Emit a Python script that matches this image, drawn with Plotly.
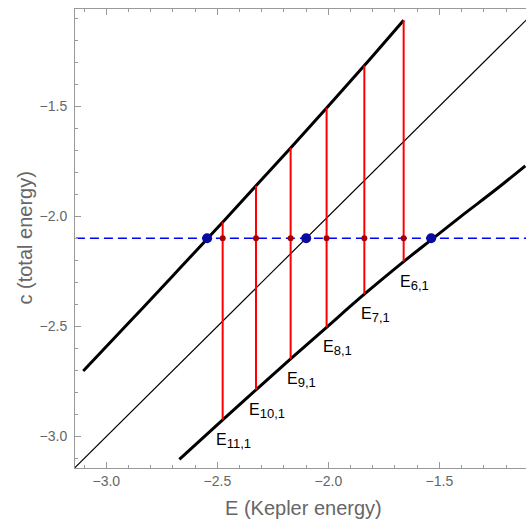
import plotly.graph_objects as go

# Upper boundary curve (E, c)
upper_E = [-3.104, -2.900, -2.700, -2.546, -2.476, -2.326, -2.170, -2.008, -1.838, -1.661]
upper_c = [-2.703, -2.485, -2.270, -2.103, -2.027, -1.862, -1.690, -1.509, -1.316, -1.110]

# Lower boundary curve (E, c)
lower_E = [-2.671, -2.476, -2.326, -2.170, -2.008, -1.838, -1.661, -1.537, -1.400, -1.250, -1.113]
lower_c = [-3.104, -2.924, -2.788, -2.648, -2.504, -2.354, -2.206, -2.107, -1.998, -1.882, -1.771]

# Diagonal c = E
diag_E = [-3.15, -1.05]
diag_c = [-3.15, -1.05]

# Levels E_{n,1}
level_subs = ["11,1", "10,1", "9,1", "8,1", "7,1", "6,1"]
level_E = [-2.476, -2.326, -2.170, -2.008, -1.838, -1.661]
level_top = [-2.027, -1.862, -1.690, -1.509, -1.316, -1.110]
level_bot = [-2.924, -2.788, -2.648, -2.504, -2.354, -2.206]

# Total energy level
c_level = -2.1
blue_E = [-2.546, -2.10, -1.537]

fig = go.Figure()

fig.add_trace(go.Scatter(x=diag_E, y=diag_c, mode="lines",
                         line=dict(color="black", width=1.2), hoverinfo="skip"))
fig.add_trace(go.Scatter(x=upper_E, y=upper_c, mode="lines",
                         line=dict(color="black", width=3, shape="spline"), hoverinfo="skip"))
fig.add_trace(go.Scatter(x=lower_E, y=lower_c, mode="lines",
                         line=dict(color="black", width=3, shape="spline"), hoverinfo="skip"))

for e, t, b in zip(level_E, level_top, level_bot):
    fig.add_trace(go.Scatter(x=[e, e], y=[b, t], mode="lines",
                             line=dict(color="#FF0000", width=2), hoverinfo="skip"))

fig.add_trace(go.Scatter(x=[-3.2, -1.0], y=[c_level, c_level], mode="lines",
                         line=dict(color="#0000FF", width=1.5, dash="9px,5px"), hoverinfo="skip"))

fig.add_trace(go.Scatter(x=level_E, y=[c_level] * len(level_E), mode="markers",
                         marker=dict(color="#A80000", size=6), hoverinfo="skip"))
fig.add_trace(go.Scatter(x=blue_E, y=[c_level] * len(blue_E), mode="markers",
                         marker=dict(color="#0A0AA0", size=10), hoverinfo="skip"))

for sub, e, b in zip(level_subs, level_E, level_bot):
    fig.add_annotation(x=e, y=b,
                       text="E<sub><span style='font-size:13px'>" + sub + "</span></sub>",
                       showarrow=False, xanchor="center", yanchor="top",
                       xshift=11, yshift=-9,
                       font=dict(family="Liberation Sans, Arial, sans-serif", size=16, color="black"))

axis_color = "#999999"
label_color = "#666666"

fig.add_annotation(xref="paper", yref="paper", x=0.507, y=-0.087, text="E (Kepler energy)",
                   showarrow=False, xanchor="center", yanchor="middle",
                   font=dict(family="Liberation Sans, Arial, sans-serif", size=20, color=label_color))
fig.add_annotation(xref="paper", yref="paper", x=-0.113, y=0.5, text="c (total energy)",
                   showarrow=False, xanchor="center", yanchor="middle", textangle=-90,
                   font=dict(family="Liberation Sans, Arial, sans-serif", size=20, color=label_color))

fig.update_layout(
    width=526, height=526,
    margin=dict(l=75, r=0, t=9, b=58),
    paper_bgcolor="white", plot_bgcolor="white",
    showlegend=False,
    font=dict(family="Liberation Sans, Arial, sans-serif", size=14, color=label_color),
)

fig.update_xaxes(range=[-3.141, -1.110], showgrid=False, zeroline=False,
                 showline=True, linecolor=axis_color, linewidth=1, mirror="ticks",
                 ticks="inside", ticklen=6, tickcolor=axis_color, tickwidth=1,
                 tickvals=[-3.0, -2.5, -2.0, -1.5], ticktext=["−3.0", "−2.5", "−2.0", "−1.5"],
                 tickfont=dict(size=14, color=label_color),
                 minor=dict(dtick=0.1, tick0=-3.0, ticks="inside", ticklen=3, tickcolor=axis_color, tickwidth=1))
fig.update_yaxes(range=[-3.143, -1.059], showgrid=False, zeroline=False,
                 showline=True, linecolor=axis_color, linewidth=1, mirror=False,
                 ticks="inside", ticklen=6, tickcolor=axis_color, tickwidth=1,
                 tickvals=[-3.0, -2.5, -2.0, -1.5], ticktext=["−3.0", "−2.5", "−2.0", "−1.5"],
                 tickfont=dict(size=14, color=label_color), ticklabelstandoff=4,
                 minor=dict(dtick=0.1, tick0=-3.0, ticks="inside", ticklen=3, tickcolor=axis_color, tickwidth=1))

fig.write_html("out.html")
